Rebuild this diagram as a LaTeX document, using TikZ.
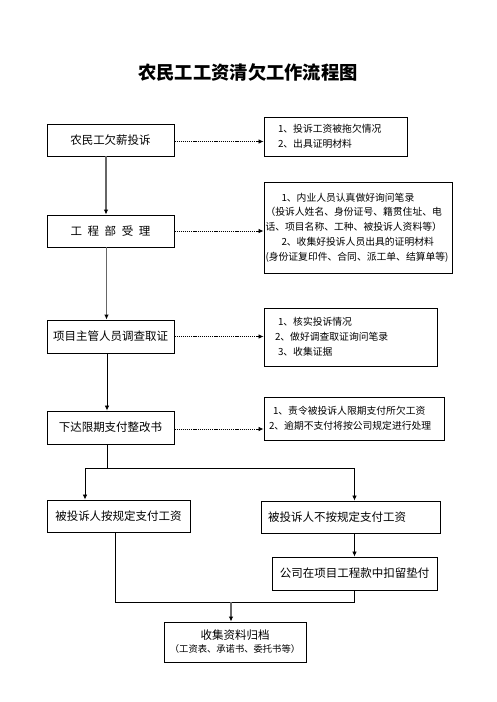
\documentclass[tikz,border=0pt]{standalone}
\usepackage{fontspec}
\setmainfont{Noto Sans CJK SC}
\usetikzlibrary{arrows.meta}
\tikzset{
  mainbox/.style={draw, line width=0.9pt, inner sep=0pt, font=\fontsize{11.5}{14}\selectfont},
  notebox/.style={draw, line width=0.9pt, align=left, font=\fontsize{9.8}{14.8}\selectfont, inner ysep=0pt},
  flow/.style={line width=1.2pt, draw=black!60, -{Latex[length=5pt,width=4.5pt,color=black]}},
  flowthin/.style={line width=0.8pt, -{Latex[length=5pt,width=4.5pt]}},
  link/.style={line width=0.8pt},
  dots/.style={line width=0.8pt, dash pattern=on 1.2pt off 0.9pt, -{Latex[length=5pt,width=4.5pt]}}
}
\begin{document}
\begin{tikzpicture}[x=1pt,y=-1pt]
\useasboundingbox[fill=white] (0,0) rectangle (496,702);
\node[font=\fontsize{18.3}{22}\selectfont\bfseries] (title) at (248,72) {农民工工资清欠工作流程图};

\node[mainbox, minimum width=127pt, minimum height=32pt] (A) at (110.5,140) {农民工欠薪投诉};
\node[notebox, text width=115pt, inner xsep=14pt, minimum height=39pt] (RA) at (335.5,136.5)
  {1、投诉工资被拖欠情况\\2、出具证明材料};

\node[mainbox, minimum width=127pt, minimum height=32pt] (B) at (110.5,231)
  {工\hspace{5.6pt}程\hspace{5.6pt}部\hspace{5.6pt}受\hspace{5.6pt}理};
\node[notebox, text width=185pt, inner xsep=1.5pt, minimum height=91pt] (RB) at (358,227.5)
  {\hspace*{16pt}1、内业人员认真做好询问笔录\\（投诉人姓名、身份证号、籍贯住址、电\\话、项目名称、工种、被投诉人资料等）\\\hspace*{16pt}2、收集好投诉人员出具的证明材料\\(身份证复印件、合同、派工单、结算单等)};

\node[mainbox, minimum width=127pt, minimum height=33pt] (C) at (110.5,336.5) {项目主管人员调查取证};
\node[notebox, text width=159pt, inner xsep=7pt, minimum height=58pt] (RC) at (350.5,337)
  {\hspace*{7pt}1、核实投诉情况\\\hspace*{4pt}2、做好调查取证询问笔录\\\hspace*{7pt}3、收集证据};

\node[mainbox, minimum width=127pt, minimum height=33pt] (D) at (110.5,427.5) {下达限期支付整改书};
\node[notebox, text width=172pt, inner xsep=4pt, minimum height=43pt] (RD) at (354,418.5)
  {\hspace*{5pt}1、责令被投诉人限期支付所欠工资\\\hspace*{1pt}2、逾期不支付将按公司规定进行处理};

\node[mainbox, minimum width=143pt, minimum height=32pt] (E) at (118.5,516) {被投诉人按规定支付工资};
\node[mainbox, minimum width=173pt, minimum height=32pt, align=left, text width=165pt, inner xsep=7pt] (F) at (350.5,517) {被投诉人不按规定支付工资};
\node[mainbox, minimum width=165pt, minimum height=33pt] (G) at (354.5,573.5) {公司在项目工程款中扣留垫付};
\node[mainbox, minimum width=142pt, minimum height=40pt, align=center] (H) at (235,642)
  {收集资料归档\\[-1pt]{\fontsize{9.3}{10}\selectfont（工资表、承诺书、委托书等）}};

% dotted links
\draw[dots] ([yshift=-1.5pt]A.east) -- ([yshift=-1.5pt]A.east -| RA.west);
\draw[dots] (B.east) -- (B.east -| RB.west);
\draw[dots] (C.east) -- (C.east -| RC.west);
\draw[dots] ([yshift=-1.5pt]D.east) -- ([yshift=-1.5pt]D.east -| RD.west);

% main flow
\draw[flow] ([xshift=-4.5pt]A.south) -- ([xshift=-4.5pt]B.north);
\draw[flow] ([xshift=-4pt]B.south) -- ([xshift=-4pt]C.north);
\draw[flowthin] ([xshift=-3.5pt]C.south) -- ([xshift=-3.5pt]D.north);

\coordinate (split) at (107,468);
\draw[link] ([xshift=-3.5pt]D.south) -- (split);
\draw[flowthin] (split) -| ([xshift=-33.5pt]E.north);
\draw[flowthin] (split) -| (G.north |- F.north);
\draw[flowthin] (G.north |- F.south) -- (G.north);

\coordinate (merge) at (231,602);
\draw[link] ([xshift=-3.5pt]E.south) |- (G.south |- merge) -- (G.south);
\draw[flow] (merge) -- (merge |- H.north);
\end{tikzpicture}
\end{document}
